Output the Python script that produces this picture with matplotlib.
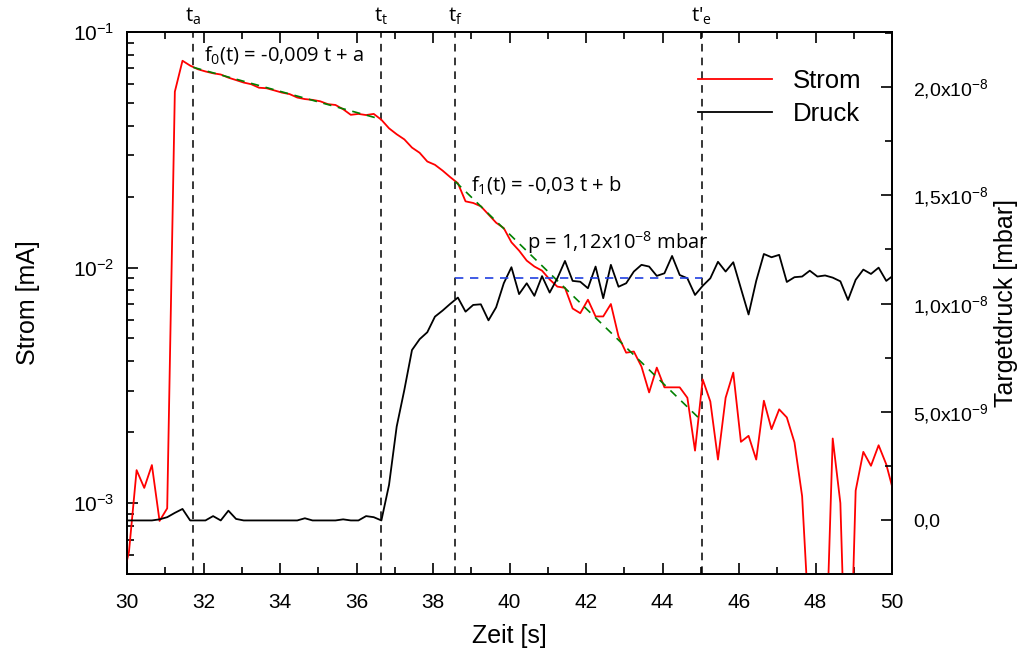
import numpy as np
import matplotlib
matplotlib.use("Agg")
import matplotlib.pyplot as plt
from matplotlib.ticker import MultipleLocator, FuncFormatter, LogLocator

plt.rcParams["font.family"] = ["Liberation Sans", "DejaVu Sans"]
plt.rcParams["mathtext.fontset"] = "custom"
plt.rcParams["mathtext.rm"] = "Liberation Sans"

# Zeitachse, Abtastung alle 0,2 s
zeit = np.round(29.85 + 0.2 * np.arange(102), 2)

# Strom [mA]
strom = [
    4.5e-4, 6.2e-4, 1.38e-3, 1.16e-3, 1.45e-3, 8.4e-4, 9.5e-4, 5.58e-2, 7.55e-2, 7.2e-2,
    6.95e-2, 6.8e-2, 6.68e-2, 6.6e-2, 6.4e-2, 6.25e-2, 6.1e-2, 6.0e-2, 5.8e-2, 5.77e-2,
    5.65e-2, 5.53e-2, 5.45e-2, 5.27e-2, 5.19e-2, 5.15e-2, 5.08e-2, 4.94e-2, 4.9e-2, 4.7e-2,
    4.45e-2, 4.49e-2, 4.44e-2, 4.49e-2, 4.24e-2, 3.9e-2, 3.68e-2, 3.5e-2, 3.23e-2, 3.07e-2,
    2.82e-2, 2.73e-2, 2.58e-2, 2.42e-2, 2.28e-2, 1.91e-2, 1.88e-2, 1.82e-2, 1.68e-2, 1.55e-2,
    1.47e-2, 1.28e-2, 1.18e-2, 1.07e-2, 1.01e-2, 9.7e-3, 8.9e-3, 8.3e-3, 8.2e-3, 6.7e-3,
    6.4e-3, 7.3e-3, 6.2e-3, 6.2e-3, 7.0e-3, 5.1e-3, 4.35e-3, 4.4e-3, 3.8e-3, 2.95e-3,
    3.76e-3, 3.1e-3, 3.1e-3, 3.1e-3, 2.8e-3, 1.67e-3, 3.35e-3, 2.7e-3, 1.53e-3, 2.8e-3,
    3.58e-3, 1.82e-3, 1.93e-3, 1.53e-3, 2.72e-3, 2.06e-3, 2.5e-3, 2.31e-3, 1.81e-3, 1.07e-3,
    2.7e-4, 1.0e-4, 1.7e-4, 1.88e-3, 1.0e-3, 8.0e-5, 1.13e-3, 1.65e-3, 1.44e-3, 1.76e-3,
    1.46e-3, 1.1e-3,
]

# Targetdruck [1e-9 mbar]
druck = [
    0, 0, 0, 0, 0, 0.05, 0.15, 0.35, 0.53, 0,
    0, 0, 0.2, 0, 0.45, 0.07, 0, 0, 0, 0,
    0, 0, 0, 0, 0.1, 0, 0, 0, 0, 0.05,
    0, 0, 0.2, 0.15, 0, 1.64, 4.33, 6.02, 7.86, 8.36,
    8.68, 9.4, 9.68, 9.99, 10.28, 9.63, 9.94, 9.97, 9.23, 9.83,
    10.94, 11.68, 10.44, 10.94, 10.36, 11.27, 10.51, 11.17, 11.97, 11.05,
    11.01, 10.71, 11.71, 10.25, 11.79, 10.78, 10.94, 11.48, 11.79, 11.71,
    11.28, 11.4, 12.2, 11.32, 11.17, 10.4, 10.82, 11.17, 11.93, 11.48,
    11.91, 10.7, 9.5, 11.05, 12.29, 12.14, 12.25, 11.0, 11.22, 11.25,
    11.52, 11.25, 11.3, 11.2, 11.03, 10.17, 11.1, 11.57, 11.37, 11.66,
    11.05, 11.32,
]

# markante Zeitpunkte
marken_t = [31.73, 36.64, 38.58, 45.03]
marken_text = [r"t$_{\mathregular{a}}$", r"t$_{\mathregular{t}}$",
               r"t$_{\mathregular{f}}$", r"t'$_{\mathregular{e}}$"]

# Fitgeraden
fit0_t = [31.73, 36.6]
fit0_v = [0.0708, 0.0428]
fit1_t = [38.58, 45.03]
fit1_v = [0.0232, 0.00223]
p_mittel = 1.12e-8

fig = plt.figure(figsize=(10.22, 6.53), dpi=100)
ax = fig.add_axes([0.1243, 0.121, 0.7485, 0.830])
ax2 = ax.twinx()

l1, = ax.plot(zeit, strom, color="red", lw=1.3, label="Strom", zorder=3)
l2, = ax2.plot(zeit, np.array(druck) * 1e-9, color="black", lw=1.3, label="Druck")

ax.plot(fit0_t, fit0_v, color="green", ls=(0, (5, 4)), lw=1.2, zorder=4)
ax.plot(fit1_t, fit1_v, color="green", ls=(0, (5, 4)), lw=1.2, zorder=4)
ax2.plot([marken_t[2], marken_t[3]], [p_mittel, p_mittel], color="#2040e0",
         ls=(0, (5, 4)), lw=1.2)

for t, s in zip(marken_t, marken_text):
    ax.axvline(t, color="black", ls=(0, (5, 4)), lw=1.1)
    ax.text(t, 1.01, s, transform=ax.get_xaxis_transform(), ha="center",
            va="bottom", fontsize=14.5, family="Open Sans")

ax.text(32.0, 0.08, r"f$_{\mathregular{0}}$(t) = -0,009 t + a", fontsize=14.5,
        family="Open Sans", va="center")
ax.text(39.0, 0.0225, r"f$_{\mathregular{1}}$(t) = -0,03 t + b", fontsize=14.5,
        family="Open Sans", va="center")
ax.text(40.45, 0.0128, r"p = 1,12x10$^{\mathregular{-8}}$ mbar", fontsize=14.5,
        family="Open Sans", va="center")

ax.set_yscale("log")
ax.set_xlim(30, 50)
ax.set_ylim(5e-4, 1e-1)
ax2.set_ylim(-2.47e-9, 2.253e-8)

ax.xaxis.set_major_locator(MultipleLocator(2))
ax.xaxis.set_minor_locator(MultipleLocator(1))
ax.yaxis.set_major_locator(LogLocator(base=10))
ax.yaxis.set_minor_locator(LogLocator(base=10, subs=np.arange(2, 10)))
ax2.yaxis.set_major_locator(MultipleLocator(5e-9))
ax2.yaxis.set_minor_locator(MultipleLocator(2.5e-9))


def druck_fmt(v, pos):
    if abs(v) < 1e-12:
        return "0,0"
    exp = int(np.floor(np.log10(abs(v))))
    mant = v / 10 ** exp
    return (f"{mant:.1f}".replace(".", ",")) + r"x10$^{\mathregular{" + str(exp) + "}}$"


ax2.yaxis.set_major_formatter(FuncFormatter(druck_fmt))

ax.tick_params(which="both", direction="in", top=True, labelsize=15, width=1.2)
ax.tick_params(which="major", length=8, pad=9)
ax.tick_params(which="minor", length=5)
ax.tick_params(axis="x", which="major", pad=14)
ax2.tick_params(which="both", direction="in", labelsize=14, width=1.2)
ax2.tick_params(which="major", length=8, pad=15)
ax2.tick_params(which="minor", length=5)
for a in (ax, ax2):
    for sp in a.spines.values():
        sp.set_linewidth(1.3)

ax.set_xlabel("Zeit [s]", fontsize=18, labelpad=8)
ax.set_ylabel("Strom [mA]", fontsize=18, labelpad=24)
ax2.set_ylabel("Targetdruck [mbar]", fontsize=18, labelpad=4)

ax2.legend(handles=[l1, l2], loc="upper right", bbox_to_anchor=(0.99, 0.975),
           frameon=False, fontsize=18.5, handlelength=2.9, handletextpad=0.8,
           labelspacing=0.35)

fig.savefig("out.png", dpi=100)
